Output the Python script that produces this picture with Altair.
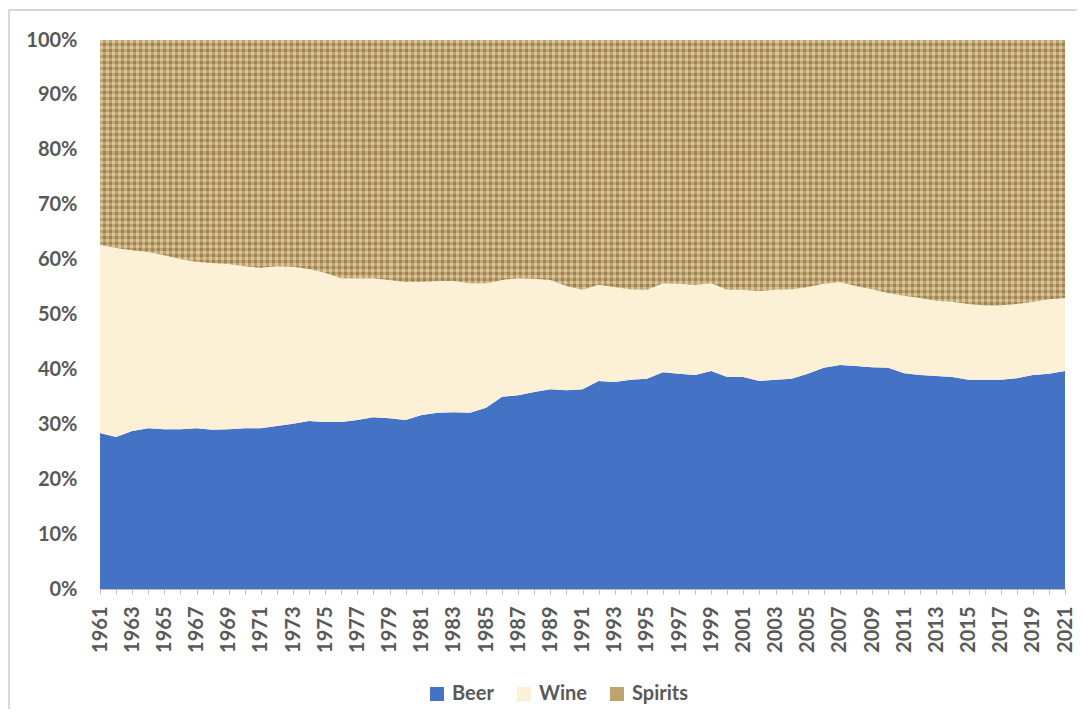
import altair as alt
import pandas as pd

years = list(range(1961, 2022))

beer = [28.4, 27.7, 28.8, 29.3, 29.1, 29.1, 29.3, 29.0, 29.1, 29.3,
        29.3, 29.7, 30.1, 30.6, 30.4, 30.4, 30.8, 31.3, 31.1, 30.8,
        31.7, 32.1, 32.2, 32.1, 33.0, 35.0, 35.3, 35.9, 36.4, 36.2,
        36.4, 37.9, 37.7, 38.1, 38.3, 39.5, 39.2, 39.0, 39.7, 38.6,
        38.6, 37.9, 38.1, 38.3, 39.2, 40.3, 40.8, 40.6, 40.4, 40.3,
        39.3, 39.0, 38.8, 38.6, 38.1, 38.1, 38.1, 38.4, 39.0, 39.2,
        39.7]

wine = [34.3, 34.4, 32.9, 32.1, 31.7, 31.0, 30.3, 30.4, 30.1, 29.5,
        29.2, 29.1, 28.6, 27.7, 27.2, 26.2, 25.8, 25.3, 25.2, 25.1,
        24.2, 24.0, 23.9, 23.6, 22.7, 21.3, 21.3, 20.6, 19.9, 19.0,
        18.1, 17.5, 17.3, 16.5, 16.2, 16.2, 16.4, 16.4, 16.0, 15.9,
        15.9, 16.4, 16.4, 16.3, 15.8, 15.3, 15.1, 14.6, 14.2, 13.6,
        14.1, 14.0, 13.7, 13.7, 13.8, 13.6, 13.6, 13.5, 13.3, 13.6,
        13.3]

spirits = [37.3, 37.9, 38.3, 38.6, 39.2, 39.9, 40.4, 40.6, 40.8, 41.2,
           41.5, 41.2, 41.3, 41.7, 42.4, 43.4, 43.4, 43.4, 43.7, 44.1,
           44.1, 43.9, 43.9, 44.3, 44.3, 43.7, 43.4, 43.5, 43.7, 44.8,
           45.5, 44.6, 45.0, 45.4, 45.5, 44.3, 44.4, 44.6, 44.3, 45.5,
           45.5, 45.7, 45.5, 45.4, 45.0, 44.4, 44.1, 44.8, 45.4, 46.1,
           46.6, 47.0, 47.5, 47.7, 48.1, 48.3, 48.3, 48.1, 47.7, 47.2,
           47.0]

types = ["Beer", "Wine", "Spirits"]
colors = ["#4472C4", "#FCF0D6", "#BEA26F"]
y_ticks = [i / 10 for i in range(11)]

rows = []
for i, yr in enumerate(years):
    for k, (t, vals) in enumerate(zip(types, [beer, wine, spirits])):
        rows.append({"year": yr, "type": t, "share": vals[i], "ord": k})
df = pd.DataFrame(rows)

FONT = "Lato"
TXT = "#595959"

x_axis = alt.Axis(
    values=years,
    format="d",
    labelExpr="(datum.value - 1961) % 2 == 0 ? format(datum.value, 'd') : ''",
    labelAngle=270,
    labelAlign="right",
    labelBaseline="middle",
    labelOverlap=False,
    labelFlush=False,
    labelPadding=12,
    labelFont=FONT,
    labelFontSize=20,
    labelFontWeight="bold",
    labelColor=TXT,
    tickSize=5,
    tickColor="#BFBFBF",
    domainColor="#BFBFBF",
    grid=False,
    title=None,
)
y_axis = alt.Axis(
    values=y_ticks,
    format=".0%",
    labelFont=FONT,
    labelFontSize=20,
    labelFontWeight="bold",
    labelColor=TXT,
    labelPadding=23,
    ticks=False,
    tickSize=0,
    domain=False,
    grid=False,
    title=None,
)
x_scale = alt.Scale(domain=[1961, 2021], nice=False, zero=False)
y_scale = alt.Scale(domain=[0, 1])


def stripes(n, light, dark, horizontal):
    stops = []
    for i in range(n):
        a = i / n
        b = (i + 0.5) / n
        c = (i + 1) / n
        stops += [
            alt.GradientStop(offset=a, color=light),
            alt.GradientStop(offset=b, color=light),
            alt.GradientStop(offset=b, color=dark),
            alt.GradientStop(offset=c, color=dark),
        ]
    if horizontal:
        return alt.LinearGradient(gradient="linear", stops=stops, x1=0, y1=0, x2=0, y2=1)
    return alt.LinearGradient(gradient="linear", stops=stops, x1=0, y1=0, x2=1, y2=0)


area = alt.Chart(df).mark_area(interpolate="linear").encode(
    x=alt.X("year:Q", scale=x_scale, axis=x_axis),
    y=alt.Y("share:Q", stack="normalize", scale=y_scale, axis=y_axis),
    color=alt.Color(
        "type:N",
        scale=alt.Scale(domain=types, range=colors),
        sort=types,
        legend=alt.Legend(
            title=None,
            orient="none",
            legendX=327,
            legendY=644,
            direction="horizontal",
            symbolType="square",
            symbolSize=196,
            symbolStrokeWidth=0,
            symbolOpacity=1,
            labelFont=FONT,
            labelFontSize=20,
            labelFontWeight="bold",
            labelColor=TXT,
            labelOffset=5,
            columnPadding=20,
        ),
    ),
    order=alt.Order("ord:Q"),
)

spirits_base = alt.Chart(df).transform_stack(
    stack="share",
    as_=["y0", "y1"],
    groupby=["year"],
    sort=[alt.SortField("ord", order="ascending")],
    offset="normalize",
).transform_filter("datum.type == 'Spirits'")

weave_v = spirits_base.mark_area(
    interpolate="linear",
    fill=stripes(160, "rgba(255,240,195,0.30)", "rgba(110,80,35,0.25)", False),
).encode(
    x=alt.X("year:Q", scale=x_scale, axis=x_axis),
    y=alt.Y("y0:Q", scale=y_scale, axis=y_axis),
    y2="y1:Q",
)

weave_h = spirits_base.mark_area(
    interpolate="linear",
    fill=stripes(44, "rgba(255,240,195,0.22)", "rgba(110,80,35,0.18)", True),
).encode(
    x=alt.X("year:Q", scale=x_scale, axis=x_axis),
    y=alt.Y("y0:Q", scale=y_scale, axis=y_axis),
    y2="y1:Q",
)

frame = alt.Chart(pd.DataFrame({"f": [0]})).mark_rect(
    fill="transparent", stroke="#D9D9D9", strokeWidth=2
).encode(
    x=alt.value(-91), x2=alt.value(1100), y=alt.value(-30), y2=alt.value(800)
)

chart = alt.layer(frame, area, weave_v, weave_h).properties(
    width=965,
    height=549,
    autosize=alt.AutoSizeParams(type="none"),
    padding={"left": 92, "top": 32, "right": 12, "bottom": 120},
    background="white",
).configure_view(strokeWidth=0)

chart.save("out.html", embed_options={"renderer": "svg", "actions": False})
